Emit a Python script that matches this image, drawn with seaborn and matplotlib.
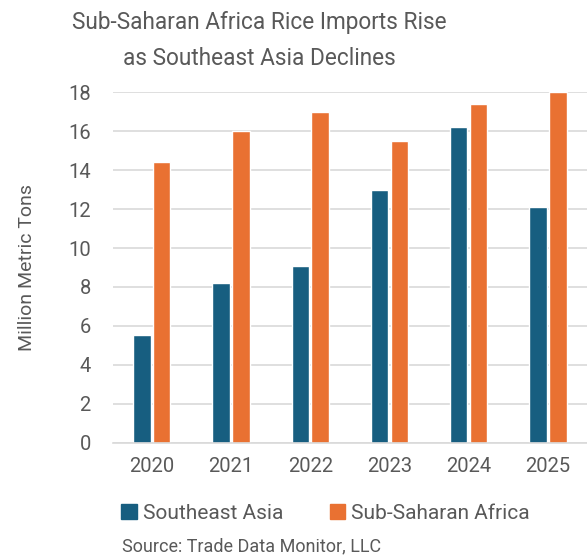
import seaborn as sns
import pandas as pd
import matplotlib.pyplot as plt

years = ["2020", "2021", "2022", "2023", "2024", "2025"]
southeast_asia = [5.55, 8.2, 9.1, 13.0, 16.2, 12.1]
sub_saharan_africa = [14.4, 16.0, 17.0, 15.5, 17.4, 18.0]
series_names = ["Southeast Asia", "Sub-Saharan Africa"]

df = pd.DataFrame({
    "year": years * 2,
    "value": southeast_asia + sub_saharan_africa,
    "region": [series_names[0]] * len(years) + [series_names[1]] * len(years),
})

sns.set_style("white")
plt.rcParams['font.family'] = ['Roboto', 'DejaVu Sans']
txt = "#595959"

fig = plt.figure(figsize=(5.87, 5.6), dpi=100)
ax = fig.add_axes([0.1925, 0.2095, 0.807, 0.6255])

sns.barplot(data=df, x="year", y="value", hue="region", ax=ax,
            palette=["#175E80", "#E97132"], width=0.5, gap=0.12,
            saturation=1, legend=False)

ax.set_ylim(0, 18)
ax.set_xlim(-0.49, 5.49)
ax.set_yticks(range(0, 19, 2))
ax.yaxis.grid(True, color="#D9D9D9", linewidth=1.2)
ax.set_axisbelow(True)
for s in ["top", "right", "left"]:
    ax.spines[s].set_visible(False)
ax.spines["bottom"].set_color("#D9D9D9")
ax.spines["bottom"].set_linewidth(1.2)
ax.tick_params(axis="both", length=0, labelsize=14.5, labelcolor=txt)
ax.tick_params(axis="y", pad=16)
ax.tick_params(axis="x", pad=10)
ax.set_xlabel("")
ax.set_ylabel("Million Metric Tons", fontsize=14, color=txt, labelpad=23)

fig.text(0.442, 0.96, "Sub-Saharan Africa Rice Imports Rise", ha="center", va="center",
         fontsize=16.3, color=txt)
fig.text(0.442, 0.896, "as Southeast Asia Declines", ha="center", va="center",
         fontsize=16.3, color=txt)

handles = [plt.Rectangle((0, 0), 1, 1, color=c) for c in ["#175E80", "#E97132"]]
fig.legend(handles, series_names, loc="center", bbox_to_anchor=(0.555, 0.083), ncol=2,
           frameon=False, fontsize=15, labelcolor=txt, handlelength=0.75, handleheight=0.75,
           handletextpad=0.3, columnspacing=2.2)

fig.text(0.208, 0.024, "Source: Trade Data Monitor, LLC", ha="left", va="center",
         fontsize=13, color=txt)

fig.savefig("out.png", dpi=100)
